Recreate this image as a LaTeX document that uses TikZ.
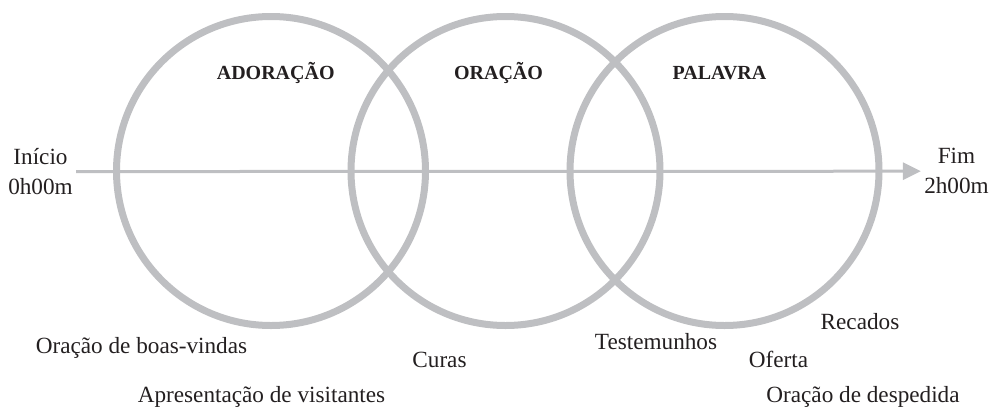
\documentclass[tikz,border=0pt]{standalone}
\usepackage{fontspec}
\setmainfont{Liberation Serif}
\usetikzlibrary{arrows.meta}
\definecolor{ringgrey}{RGB}{190,191,194}
\definecolor{inkdark}{RGB}{35,31,32}

\begin{document}
\begin{tikzpicture}[x=0.5pt,y=-0.5pt,
	ring/.style={draw=ringgrey,line width=3.5pt},
	title/.style={anchor=base,inner sep=0,text=inkdark,font=\fontsize{10}{12}\selectfont\bfseries},
	item/.style={anchor=base,inner sep=0,text=inkdark,font=\fontsize{11.6}{15}\selectfont},
	bound/.style={anchor=north,inner sep=1.5pt,align=center,text=inkdark,font=\fontsize{11.6}{15}\selectfont}]
		\useasboundingbox (0,0) rectangle (995,413);
		\coordinate (adoracao) at (271,171);
		\coordinate (oracao) at (505.5,171);
		\coordinate (palavra) at (724.5,171);
		\foreach \c in {adoracao,oracao,palavra}
			\draw [ring] (\c) circle [radius=77.25pt];
		\node [bound] (inicio) at (40.5,145) {Início\\0h00m};
		\node [bound] (fim) at (956.5,145) {Fim\\2h00m};
		\draw [draw=ringgrey,line width=1.5pt,-{Triangle[length=9pt,width=8.5pt]}]
		(inicio) -- (fim);
		\node [title] (tadoracao) at (275.7,79) {ADORAÇÃO};
		\node [title] (toracao) at (498.5,79) {ORAÇÃO};
		\node [title] (tpalavra) at (719.5,79) {PALAVRA};
		\node [item] (boasvindas) at (141.5,353) {Oração de boas-vindas};
		\node [item] (visitantes) at (261.5,402) {Apresentação de visitantes};
		\node [item] (curas) at (439.5,367) {Curas};
		\node [item] (testemunhos) at (656,349) {Testemunhos};
		\node [item] (oferta) at (778.5,367) {Oferta};
		\node [item] (recados) at (860,329) {Recados};
		\node [item] (despedida) at (863,402) {Oração de despedida};
\end{tikzpicture}
\end{document}
